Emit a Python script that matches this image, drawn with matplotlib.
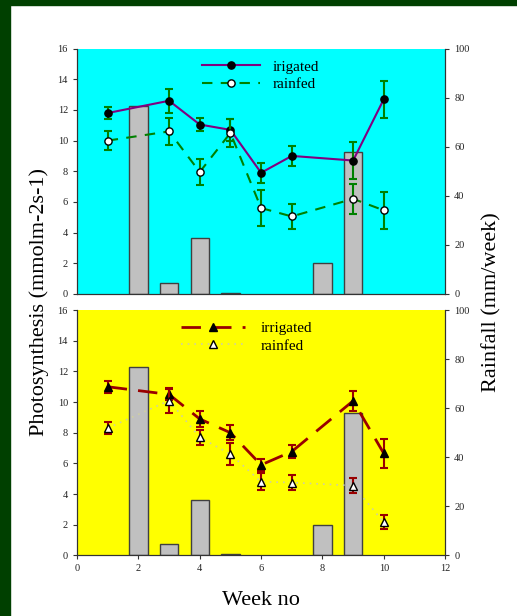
import matplotlib.pyplot as plt
from matplotlib.patches import Rectangle

plt.rcParams['font.family'] = ['Liberation Serif', 'DejaVu Serif']

# weekly rainfall (mm/week)
rain_weeks = [2, 3, 4, 5, 8, 9]
rain_mm = [76.8, 4.6, 22.6, 0.4, 12.5, 58.0]

# photosynthesis, panel 1
weeks = [1, 3, 4, 5, 6, 7, 9, 10]
irr1 = [11.8, 12.6, 11.05, 10.7, 7.9, 9.0, 8.7, 12.7]
irr1_err = [0.4, 0.8, 0.45, 0.7, 0.65, 0.63, 1.2, 1.2]
rf1 = [10.0, 10.6, 7.95, 10.5, 5.6, 5.05, 6.2, 5.45]
rf1_err = [0.6, 0.9, 0.85, 0.9, 1.15, 0.83, 0.97, 1.2]

# photosynthesis, panel 2
irr2 = [11.0, 10.5, 8.9, 8.0, 5.9, 6.77, 10.08, 6.65]
irr2_err = [0.4, 0.35, 0.55, 0.5, 0.4, 0.45, 0.65, 0.97]
rf2 = [8.3, 10.1, 7.7, 6.6, 4.8, 4.75, 4.55, 2.15]
rf2_err = [0.4, 0.8, 0.5, 0.7, 0.55, 0.48, 0.5, 0.45]

fig = plt.figure(figsize=(5.17, 6.16), dpi=100)
fig.patches.append(Rectangle((0, 0), 10 / 517, 1, transform=fig.transFigure,
                             color='#004000', zorder=0))
fig.patches.append(Rectangle((0, 1 - 5 / 616), 1, 5 / 616, transform=fig.transFigure,
                             color='#004000', zorder=0))

L, W, H = 0.149, 0.712, 0.398


def panel(bottom, bg):
    ax_r = fig.add_axes([L, bottom, W, H])
    ax_r.set_facecolor(bg)
    ax_r.bar(rain_weeks, rain_mm, width=0.6, color='#c0c0c0', edgecolor='#404040', linewidth=1)
    ax_r.set_ylim(0, 100)
    ax_r.set_xlim(0, 12)
    ax_p = ax_r.twinx()
    ax_r.yaxis.tick_right()
    ax_p.yaxis.tick_left()
    ax_r.set_yticks(range(0, 101, 20))
    ax_p.set_ylim(0, 16)
    ax_p.set_yticks(range(0, 17, 2))
    for a in (ax_r, ax_p):
        a.spines['top'].set_visible(False)
        a.tick_params(direction='out', length=3, width=0.8, labelsize=7.5, colors='#333333',
                      labelcolor='#222222')
        for s in a.spines.values():
            s.set_color('#333333')
    ax_r.set_xticks(range(0, 13, 2))
    return ax_r, ax_p


def series(ax, y, err, ecolor, label, **style):
    ax.errorbar(weeks, y, yerr=err, fmt='none', ecolor=ecolor, elinewidth=1.5, capsize=3,
                capthick=1.5)
    ax.plot(weeks, y, ms=5.2, mec='black', label=label, **style)


ax1r, ax1 = panel(0.523, '#00ffff')
ax1r.tick_params(axis='x', bottom=False, labelbottom=False)
series(ax1, irr1, irr1_err, '#008000', 'irigated', color='#800080', lw=1.5, marker='o',
       mfc='black')
series(ax1, rf1, rf1_err, '#008000', 'rainfed', color='#008000', lw=1.5, ls=(0, (5, 4)),
       marker='o', mfc='white')
ax1.legend(loc='upper left', bbox_to_anchor=(0.319, 0.985), frameon=False, fontsize=11,
           handlelength=3.8, handletextpad=0.8, labelspacing=0.25, borderpad=0)

ax2r, ax2 = panel(0.0985, '#ffff00')
series(ax2, irr2, irr2_err, '#990000', 'irrigated', color='#990000', lw=2, ls=(0, (7, 4)),
       marker='^', mfc='black')
series(ax2, rf2, rf2_err, '#990000', 'rainfed', color='#d0d0a0', lw=1.2, ls=(0, (1, 3)),
       marker='^', mfc='white')
ax2.legend(loc='upper left', bbox_to_anchor=(0.262, 0.985), frameon=False, fontsize=11,
           handlelength=4.2, handletextpad=1.0, labelspacing=0.25, borderpad=0)

fig.text(0.075, 0.51, 'Photosynthesis (mmolm-2s-1)', rotation=90, ha='center', va='center',
         fontsize=16)
fig.text(0.952, 0.51, 'Rainfall (mm/week)', rotation=90, ha='center', va='center', fontsize=16)
fig.text(0.505, 0.025, 'Week no', ha='center', va='center', fontsize=16)

fig.savefig('out.png', dpi=100)
